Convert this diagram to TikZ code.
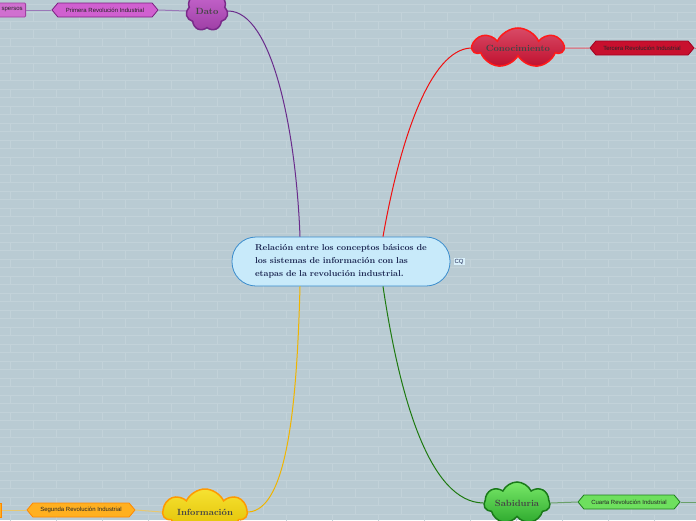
\documentclass[tikz,border=0pt]{standalone}
\usepackage{fontspec}
\newfontfamily\labfont{Liberation Sans}
\usetikzlibrary{shapes.symbols,shapes.misc}
\definecolor{bgc}{HTML}{B9CBD3}
\definecolor{brickc}{HTML}{C2D2D9}
\definecolor{navy}{HTML}{1A2550}
\definecolor{cloudtext}{HTML}{454545}
\definecolor{cborder}{HTML}{3A8CCC}
\definecolor{cfill}{HTML}{C8EAFA}
% Dato
\definecolor{datoB}{HTML}{7A2A8A}\definecolor{datoT}{HTML}{C868CE}\definecolor{datoBo}{HTML}{9E3EA6}
% Conocimiento
\definecolor{conoB}{HTML}{FF1A1A}\definecolor{conoT}{HTML}{D84A66}\definecolor{conoBo}{HTML}{C0102E}
% Informacion
\definecolor{infoB}{HTML}{FF9A00}\definecolor{infoT}{HTML}{F6E232}\definecolor{infoBo}{HTML}{E0BE00}
% Sabiduria
\definecolor{sabB}{HTML}{1A7A1A}\definecolor{sabT}{HTML}{78E868}\definecolor{sabBo}{HTML}{2EAA2E}
% hexagons
\definecolor{primD}{HTML}{7A2080}\definecolor{primF}{HTML}{D060D0}
\definecolor{terD}{HTML}{A00020}\definecolor{terF}{HTML}{C8102E}
\definecolor{segD}{HTML}{FF8800}\definecolor{segF}{HTML}{FFB020}
\definecolor{cuaD}{HTML}{1F7F1F}\definecolor{cuaF}{HTML}{6EE05E}
\definecolor{spD}{HTML}{A040A0}\definecolor{spF}{HTML}{D070D0}
% lines
\definecolor{lPur}{HTML}{6A2C8C}\definecolor{lRed}{HTML}{F01010}
\definecolor{lOra}{HTML}{F0B400}\definecolor{lGre}{HTML}{1E7A10}
\definecolor{sPur}{HTML}{9A78B8}\definecolor{sRed}{HTML}{E85868}
\definecolor{sOra}{HTML}{E8C870}\definecolor{sGre}{HTML}{6AA06A}
\tikzset{
  brick/.style={draw=brickc, line width=0.5pt},
  central/.style={draw=cborder, fill=cfill, rounded corners=24pt, line width=0.8pt,
    minimum width=218pt, minimum height=49pt, inner sep=0pt, text width=180pt, align=left,
    text=navy, font=\fontsize{8.6}{13}\selectfont\bfseries},
  cloudnode/.style={cloud, cloud puffs=7, cloud puff arc=130, cloud ignores aspect, line width=1.5pt, inner sep=0pt,
    text=cloudtext, font=\fontsize{9}{11}\selectfont\bfseries},
  hexnode/.style={shape=signal, signal to=east and west, signal pointer angle=100, line width=0.8pt,
    minimum height=14pt, inner sep=0pt, text=black!85, font=\labfont\fontsize{6}{7}\selectfont},
  sub/.style={line width=1pt},
  mainline/.style={line width=1pt},
}
\begin{document}
\begin{tikzpicture}[x=1pt,y=-1pt]
\fill[bgc] (0,0) rectangle (696,520);
\useasboundingbox (0,0) rectangle (696,520);
% brick background
\foreach \r in {0,...,61}{
  \draw[brick] (0,{\r*8.5+4}) -- (696,{\r*8.5+4});
  \pgfmathsetmacro\off{mod(\r,2)*23}
  \foreach \cc in {0,...,15}{
    \draw[brick] ({\off+\cc*46+10},{\r*8.5+4}) -- ++(0,8.5);
  }
}
% central node
\node[central] (c) at (341,261.5) {\hspace*{4pt}Relación entre los conceptos básicos de\\\hspace*{4pt}los sistemas de información con las\\\hspace*{4pt}etapas de la revolución industrial.};
\node[fill=cfill!70!white, inner sep=1pt, text=navy, font=\labfont\fontsize{6}{6}\selectfont] (cq) at (459,261.5) {CQ};
\coordinate (ct1) at ([xshift=-41pt]c.north);
\coordinate (ct2) at ([xshift=42pt]c.north);
\coordinate (cb1) at ([xshift=-41pt]c.south);
\coordinate (cb2) at ([xshift=42pt]c.south);

% clouds
\node[cloudnode, draw=datoB, top color=datoT, bottom color=datoBo, minimum width=42pt, minimum height=40pt] (dato) at (207,11) {Dato};
\node[cloudnode, draw=conoB, top color=conoT, bottom color=conoBo, minimum width=90pt, minimum height=40pt] (cono) at (518,48) {\raisebox{-2pt}{Conocimiento}};
\node[cloudnode, draw=infoB, top color=infoT, bottom color=infoBo, minimum width=84pt, minimum height=46pt] (info) at (205,512) {Información};
\node[cloudnode, draw=sabB, top color=sabT, bottom color=sabBo, minimum width=66pt, minimum height=42pt] (sab) at (517,503) {Sabiduria};

% hexagons
\node[hexnode, draw=primD, fill=primF, minimum width=106pt] (prim) at (105,10) {Primera Revolución Industrial};
\node[hexnode, draw=terD, fill=terF, minimum width=104pt] (ter) at (642,48) {Tercera Revolución Industrial};
\node[hexnode, draw=segD, fill=segF, minimum width=108pt] (seg) at (81,510) {Segunda Revolución Industrial};
\node[hexnode, draw=cuaD, fill=cuaF, minimum width=102pt] (cua) at (629,502) {Cuarta Revolución Industrial};

% partial nodes at edges
\node[draw=spD, fill=spF, line width=0.8pt, rounded corners=1pt, minimum height=14pt, inner xsep=3pt, inner ysep=0pt, text=black!85, font=\labfont\fontsize{6}{7}\selectfont, anchor=east] (sp) at (26,10) {spersos};
\node[draw=segD, fill=segF, line width=0.8pt, minimum height=14pt, minimum width=6pt, inner sep=0pt, anchor=east] (segl) at (2,510) {};
\coordinate (terR) at (696,48);
\coordinate (cuaR) at (696,502);

% connectors
\draw[mainline, draw=lPur] (ct1) .. controls (296,130) and (272,11) .. (dato.east);
\draw[mainline, draw=lRed] (ct2) .. controls (400,140) and (430,50) .. (cono.west);
\draw[mainline, draw=lOra] (cb1) .. controls (297,400) and (288,510) .. (info.east);
\draw[mainline, draw=lGre] (cb2) .. controls (400,400) and (430,502) .. (sab.west);

\draw[sub, draw=sPur] (prim.east) -- (dato.west);
\draw[sub, draw=sPur] (sp.east) -- (prim.west);
\draw[sub, draw=sRed] (cono.east) -- (ter.west);
\draw[sub, draw=sRed] (ter.east) -- (terR);
\draw[sub, draw=sOra] (seg.east) -- (info.west);
\draw[sub, draw=sOra] (segl.east) -- (seg.west);
\draw[sub, draw=sGre] (sab.east) -- (cua.west);
\draw[sub, draw=sGre] (cua.east) -- (cuaR);
\end{tikzpicture}
\end{document}
